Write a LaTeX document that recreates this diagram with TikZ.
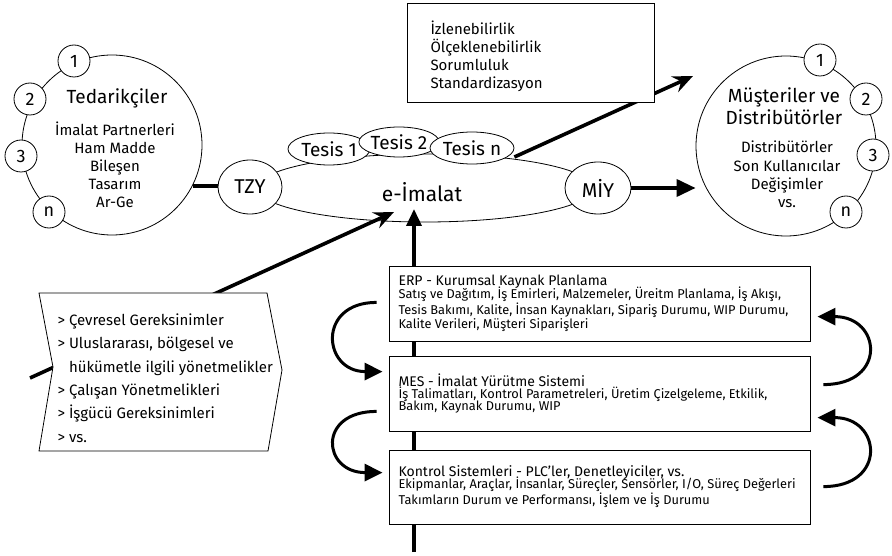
\documentclass[tikz,border=0pt]{standalone}
\usepackage{fontspec}
\setmainfont{Fira Sans}
\usetikzlibrary{arrows.meta,shapes.geometric,calc}
\newcommand\myfs[2]{\fontsize{#1}{#2}\selectfont}
\begin{document}
\begin{tikzpicture}[x=1pt,y=-1pt,
  ln/.style={line width=0.8pt},
  bigline/.style={line width=3.6pt},
  bubble/.style={circle, draw, fill=white, ln, minimum size=32pt, inner sep=0pt, font=\myfs{18}{20}},
  oval/.style={ellipse, draw, fill=white, ln, inner sep=0pt},
  bigcirc/.style={circle, draw, fill=white, ln, minimum size=180pt, inner sep=0pt},
  layerbox/.style={draw, fill=white, ln, minimum width=421pt, minimum height=75pt, inner sep=0pt},
  boxtitle/.style={anchor=west, font=\myfs{14}{16}},
  boxbody/.style={anchor=west, align=left, font=\myfs{12.8}{12.8}},
  bartip/.style={-{Stealth[length=20pt,width=17pt,inset=7pt]}},
  tritip/.style={-{Triangle[length=19pt,width=17pt]}},
  curvearrow/.style={line width=3pt, -{Triangle[length=18pt,width=17pt]}}
]
\useasboundingbox (0,0) rectangle (892,556);

% suppliers
\node[bigcirc] (sup) at (112,145) {};
\node[bubble] (s1) at (74,61) {1};
\node[bubble] (s2) at (30,99) {2};
\node[bubble] (s3) at (21,156) {3};
\node[bubble] (sn) at (49,212) {n};
\node[font=\myfs{19}{22}] (suptitle) at (117,98) {Tedarikçiler};
\node[align=center, font=\myfs{15}{18}] (suplist) at (115,165) {İmalat Partnerleri\\Ham Madde\\Bileşen\\Tasarım\\Ar-Ge};

% customers
\node[bigcirc] (cus) at (786,146) {};
\node[bubble] (c1) at (820,60) {1};
\node[bubble] (c2) at (866,99) {2};
\node[bubble] (c3) at (873,155) {3};
\node[bubble] (cn) at (846,212) {n};
\node[align=center, font=\myfs{19}{22}] (custitle) at (784,106) {Müşteriler ve\\Distribütörler};
\node[align=center, font=\myfs{15}{18.3}] (cuslist) at (787,174.5) {Distribütörler\\Son Kullanıcılar\\Değişimler\\vs.};

% e-manufacturing
\node[oval, minimum width=336pt, minimum height=68pt] (emf) at (425,188) {};
\node[font=\myfs{21}{24}] (etext) at (422,192) {e-İmalat};
\node[oval, minimum width=82pt, minimum height=32pt, font=\myfs{19}{20}] (tes1) at (329,149) {Tesis 1};
\node[oval, minimum width=78pt, minimum height=30pt, font=\myfs{19}{20}] (tes2) at (399,142) {Tesis 2};
\node[oval, minimum width=84pt, minimum height=32pt, font=\myfs{19}{20}] (tesn) at (472,148) {Tesis n};
\node[oval, minimum width=64pt, minimum height=54pt, font=\myfs{20}{22}] (tzy) at (250,187) {TZY};
\node[oval, minimum width=66pt, minimum height=52pt, font=\myfs{20}{22}] (miy) at (598,188) {MİY};

% connectors top
\draw[bigline] (sup.-27) -- (sup.-27 -| tzy.west);
\draw[bigline, tritip] (miy.east) -- (cus.west |- miy.east);
\coordinate (q1) at (693,76);
\draw[bigline, bartip] ($(tesn.east)+(0,9)$) -- (q1);

% top box
\node[draw, fill=white, ln, minimum width=247pt, minimum height=99pt, inner sep=0pt] (tb) at (530.5,52.5) {};
\node[anchor=west, align=left, font=\myfs{15}{18}] (tbt) at (427,56) {İzlenebilirlik\\Ölçeklenebilirlik\\Sorumluluk\\Standardizasyon};

% lower connectors
\coordinate (lfree) at (30,378);
\coordinate (ltip) at (394,212);
\draw[bigline, bartip] (lfree) -- (ltip);
\coordinate (vbot) at (414,552);
\coordinate (vtip) at (414,209);
\draw[bigline, -{Triangle[length=17pt,width=15pt]}] (vbot) -- (vtip);

% regulations box
\draw[ln, fill=white] (39,293) -- (267,293) -- (282,370) -- (268,451) -- (39,451) -- (53,367) -- cycle;
\node[anchor=west, align=left, font=\myfs{15}{23.4}] (env) at (54,378) {> Çevresel Gereksinimler\\> Uluslararası, bölgesel ve\\\phantom{> }hükümetle ilgili yönetmelikler\\> Çalışan Yönetmelikleri\\> İşgücü Gereksinimleri\\> vs.};

% layer boxes
\node[layerbox] (erp) at (599.5,303.5) {};
\node[layerbox] (mes) at (599.5,393.5) {};
\node[layerbox, minimum height=74pt] (kon) at (599.5,487) {};
\node[boxtitle] (erpt) at (395,282) {ERP - Kurumsal Kaynak Planlama};
\node[boxbody] (erpb) at (395,309) {Satış ve Dağıtım, İş Emirleri, Malzemeler, Üreitm Planlama, İş Akışı,\\Tesis Bakımı, Kalite, İnsan Kaynakları, Sipariş Durumu, WIP Durumu,\\Kalite Verileri, Müşteri Siparişleri};
\node[boxtitle] (mest) at (395,380) {MES - İmalat Yürütme Sistemi};
\node[boxbody] (mesb) at (395,400) {İş Talimatları, Kontrol Parametreleri, Üretim Çizelgeleme, Etkilik,\\Bakım, Kaynak Durumu, WIP};
\node[boxtitle] (kont) at (395,473) {Kontrol Sistemleri - PLC’ler, Denetleyiciler, vs.};
\node[boxbody] (konb) at (395,492) {Ekipmanlar, Araçlar, İnsanlar, Süreçler, Sensörler, I/O, Süreç Değerleri\\Takımların Durum ve Performansı, İşlem ve İş Durumu};

% curved arrows
\draw[curvearrow] ($(erp.south west)+(-12,-39)$) .. controls +(-60,0) and +(-60,0) .. ($(mes.north west)+(-6,16)$);
\draw[curvearrow] ($(mes.south west)+(-12,-20)$) .. controls +(-60,0) and +(-60,0) .. ($(kon.north west)+(-6,23)$);
\draw[curvearrow] ($(mes.north east)+(13,29)$) .. controls +(64,0) and +(64,0) .. ($(erp.north east)+(7,51)$);
\draw[curvearrow] ($(kon.north east)+(13,37)$) .. controls +(64,0) and +(64,0) .. ($(mes.north east)+(7,62)$);
\end{tikzpicture}
\end{document}
